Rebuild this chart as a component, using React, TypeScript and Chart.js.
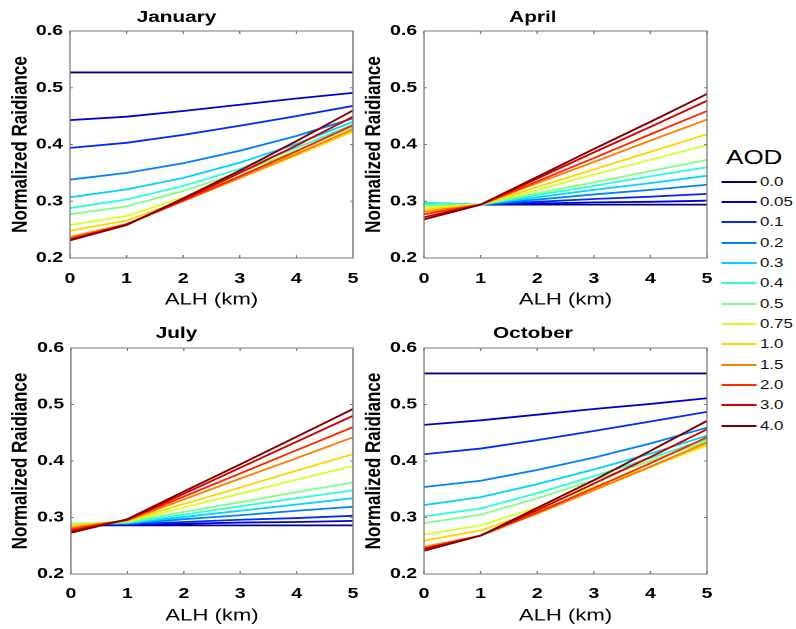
import React, { useEffect, useRef } from "react";
import { Chart, registerables } from "chart.js";

Chart.register(...registerables);

// ---- data ----
const ALH_KM = [0, 1, 2, 3, 4, 5];
const AOD_LABELS = ["0.0", "0.05", "0.1", "0.2", "0.3", "0.4", "0.5", "0.75", "1.0", "1.5", "2.0", "3.0", "4.0"];
const AOD_COLORS = ["#000080", "#0000D4", "#002AFF", "#0080FF", "#00D4FF", "#2AFFD4", "#80FF80", "#D4FF2A", "#FFD400", "#FF8000", "#FF2A00", "#D40000", "#800000"];
const Y_TICKS = [0.2, 0.3, 0.4, 0.5, 0.6];
const X_TICKS = [0, 1, 2, 3, 4, 5];

const JANUARY = [
  [0.527, 0.527, 0.527, 0.527, 0.527, 0.527],
  [0.443, 0.449, 0.459, 0.470, 0.481, 0.491],
  [0.394, 0.403, 0.417, 0.433, 0.450, 0.468],
  [0.338, 0.350, 0.367, 0.389, 0.415, 0.446],
  [0.307, 0.321, 0.341, 0.368, 0.401, 0.440],
  [0.288, 0.303, 0.327, 0.357, 0.394, 0.435],
  [0.277, 0.291, 0.318, 0.351, 0.389, 0.431],
  [0.258, 0.274, 0.307, 0.344, 0.384, 0.425],
  [0.248, 0.266, 0.302, 0.341, 0.381, 0.423],
  [0.237, 0.260, 0.300, 0.341, 0.383, 0.427],
  [0.234, 0.259, 0.301, 0.344, 0.388, 0.434],
  [0.232, 0.259, 0.303, 0.350, 0.398, 0.449],
  [0.231, 0.258, 0.305, 0.354, 0.406, 0.460],
];

const APRIL = [
  [0.294, 0.294, 0.294, 0.294, 0.294, 0.294],
  [0.295, 0.294, 0.296, 0.298, 0.299, 0.301],
  [0.296, 0.294, 0.299, 0.304, 0.308, 0.313],
  [0.297, 0.294, 0.303, 0.312, 0.320, 0.329],
  [0.297, 0.294, 0.307, 0.320, 0.332, 0.345],
  [0.296, 0.294, 0.311, 0.327, 0.344, 0.360],
  [0.293, 0.294, 0.314, 0.333, 0.353, 0.373],
  [0.289, 0.294, 0.320, 0.347, 0.373, 0.399],
  [0.285, 0.294, 0.325, 0.356, 0.387, 0.418],
  [0.281, 0.294, 0.332, 0.369, 0.407, 0.444],
  [0.277, 0.294, 0.335, 0.376, 0.418, 0.459],
  [0.272, 0.294, 0.340, 0.386, 0.431, 0.477],
  [0.268, 0.294, 0.343, 0.392, 0.440, 0.489],
];

const JULY = [
  [0.286, 0.286, 0.286, 0.286, 0.286, 0.286],
  [0.287, 0.287, 0.289, 0.291, 0.292, 0.294],
  [0.287, 0.288, 0.292, 0.296, 0.299, 0.303],
  [0.288, 0.289, 0.297, 0.304, 0.312, 0.319],
  [0.289, 0.290, 0.301, 0.312, 0.323, 0.334],
  [0.289, 0.291, 0.305, 0.320, 0.334, 0.348],
  [0.289, 0.292, 0.310, 0.327, 0.345, 0.362],
  [0.287, 0.293, 0.318, 0.342, 0.367, 0.391],
  [0.285, 0.294, 0.324, 0.353, 0.383, 0.412],
  [0.282, 0.295, 0.332, 0.369, 0.405, 0.442],
  [0.279, 0.296, 0.337, 0.378, 0.419, 0.460],
  [0.276, 0.296, 0.342, 0.388, 0.434, 0.480],
  [0.273, 0.297, 0.346, 0.394, 0.443, 0.492],
];

const OCTOBER = [
  [0.555, 0.555, 0.555, 0.555, 0.555, 0.555],
  [0.464, 0.472, 0.482, 0.492, 0.501, 0.511],
  [0.412, 0.422, 0.437, 0.453, 0.470, 0.487],
  [0.354, 0.365, 0.384, 0.406, 0.431, 0.459],
  [0.322, 0.336, 0.359, 0.385, 0.413, 0.445],
  [0.302, 0.316, 0.343, 0.373, 0.405, 0.439],
  [0.290, 0.305, 0.334, 0.366, 0.400, 0.435],
  [0.270, 0.286, 0.318, 0.354, 0.390, 0.427],
  [0.259, 0.277, 0.311, 0.349, 0.389, 0.430],
  [0.248, 0.268, 0.307, 0.348, 0.390, 0.433],
  [0.245, 0.268, 0.309, 0.352, 0.396, 0.442],
  [0.244, 0.268, 0.313, 0.360, 0.407, 0.456],
  [0.241, 0.268, 0.317, 0.366, 0.418, 0.471],
];

// ---- layout (inner coordinates; whole figure is stretched horizontally) ----
const S = 1.3;
const FONT = "'Liberation Sans', Arial, sans-serif";
Chart.defaults.font.family = FONT;

const boxPlugin = {
  id: "matlabBox",
  afterDraw(chart: any) {
    const { ctx, chartArea: a, scales } = chart;
    ctx.save();
    ctx.strokeStyle = "#767676";
    ctx.lineWidth = 1;
    ctx.strokeRect(a.left, a.top, a.right - a.left, a.bottom - a.top);
    ctx.beginPath();
    for (const t of scales.x.ticks) {
      const px = scales.x.getPixelForValue(t.value);
      ctx.moveTo(px, a.bottom);
      ctx.lineTo(px, a.bottom - 3);
      ctx.moveTo(px, a.top);
      ctx.lineTo(px, a.top + 3);
    }
    for (const t of scales.y.ticks) {
      const py = scales.y.getPixelForValue(t.value);
      ctx.moveTo(a.left, py);
      ctx.lineTo(a.left + 2.2, py);
      ctx.moveTo(a.right, py);
      ctx.lineTo(a.right - 2.2, py);
    }
    ctx.stroke();
    ctx.restore();
  },
};

type PanelProps = {
  title: string;
  values: number[][];
  left: number;
  top: number;
  width: number;
  height: number;
  yAxisWidth: number;
  xAxisHeight: number;
  rightPad: number;
  titleTop: number;
  yTitlePad: number;
  xTitlePad: number;
  xTickPad: number;
};

function Panel(p: PanelProps) {
  const ref = useRef<HTMLCanvasElement>(null);
  useEffect(() => {
    const chart = new Chart(ref.current as HTMLCanvasElement, {
      type: "line",
      data: {
        datasets: p.values.map((vals, i) => ({
          label: AOD_LABELS[i],
          data: ALH_KM.map((x, j) => ({ x, y: vals[j] })),
          borderColor: AOD_COLORS[i],
          backgroundColor: AOD_COLORS[i],
          borderWidth: 1.8,
          pointRadius: 0,
          tension: 0,
          fill: false,
          order: AOD_LABELS.length - i,
        })),
      },
      options: {
        animation: false,
        responsive: false,
        devicePixelRatio: 2,
        layout: { autoPadding: false, padding: { left: 0, right: p.rightPad, top: 0, bottom: 0 } },
        plugins: {
          legend: { display: false },
          tooltip: { enabled: false },
          title: {
            display: true,
            text: p.title,
            color: "#000",
            font: { family: FONT, size: 16, weight: "bold" },
            padding: { top: p.titleTop, bottom: 31 - p.titleTop - 19.2 },
          },
        },
        scales: {
          x: {
            type: "linear",
            min: 0,
            max: 5,
            afterBuildTicks: (s: any) => {
              s.ticks = X_TICKS.map((v) => ({ value: v }));
            },
            ticks: {
              color: "#000",
              font: { family: FONT, size: 15, weight: "bold" },
              padding: p.xTickPad,
              maxRotation: 0,
              callback: (v: any) => String(v),
            },
            grid: { display: false, drawTicks: false },
            border: { display: false },
            title: {
              display: true,
              text: "ALH (km)",
              color: "#000",
              font: { family: FONT, size: 17 },
              padding: { top: 0, bottom: p.xTitlePad },
            },
            afterFit: (s: any) => {
              s.height = p.xAxisHeight;
              s.paddingLeft = 0;
              s.paddingRight = 0;
            },
          },
          y: {
            type: "linear",
            min: 0.2,
            max: 0.6,
            afterBuildTicks: (s: any) => {
              s.ticks = Y_TICKS.map((v) => ({ value: v }));
            },
            ticks: {
              color: "#000",
              font: { family: FONT, size: 15, weight: "bold" },
              padding: 5.3,
              callback: (v: any) => Number(v).toFixed(1),
            },
            grid: { display: false, drawTicks: false },
            border: { display: false },
            title: {
              display: true,
              text: "Normalized Raidiance",
              color: "#000",
              font: { family: FONT, size: 17, weight: "bold" },
              padding: { top: p.yTitlePad, bottom: 0 },
            },
            afterFit: (s: any) => {
              s.width = p.yAxisWidth;
              s.paddingTop = 0;
              s.paddingBottom = 0;
            },
          },
        },
      },
      plugins: [boxPlugin],
    } as any);
    return () => chart.destroy();
  }, []);
  return (
    <canvas
      ref={ref}
      width={p.width}
      height={p.height}
      style={{ position: "absolute", left: p.left, top: p.top, width: p.width, height: p.height }}
    />
  );
}

function Legend() {
  const rows = AOD_LABELS.map((lab, i) => {
    const cy = 181.7 + 20.33 * i;
    return (
      <div key={lab} style={{ position: "absolute", left: 555.2, top: cy - 10, height: 20, width: 60 }}>
        <div style={{ position: "absolute", left: 0, top: 9, width: 27, height: 2, background: AOD_COLORS[i] }} />
        <div
          style={{
            position: "absolute",
            left: 29.4,
            top: 0,
            height: 20,
            lineHeight: "20px",
            fontSize: 13,
            fontFamily: FONT,
            color: "#111",
            whiteSpace: "nowrap",
          }}
        >
          {lab}
        </div>
      </div>
    );
  });
  return (
    <>
      <div
        style={{
          position: "absolute",
          left: 558.5,
          top: 156.7 - 12,
          height: 24,
          lineHeight: "24px",
          fontSize: 20,
          fontFamily: FONT,
          color: "#000",
          whiteSpace: "nowrap",
        }}
      >
        AOD
      </div>
      {rows}
    </>
  );
}

export default function App() {
  return (
    <div
      style={{
        position: "fixed",
        left: 0,
        top: 0,
        width: 796 / S,
        height: 629,
        transform: `scaleX(${S})`,
        transformOrigin: "0 0",
        background: "#fff",
        overflow: "hidden",
      }}
    >
      <Panel title="January" values={JANUARY} left={0} top={0} width={276} height={310}
        yAxisWidth={53.8} xAxisHeight={52} rightPad={4.5} titleTop={8} yTitlePad={5.6} xTitlePad={0} xTickPad={12} />
      <Panel title="April" values={APRIL} left={276} top={0} width={276} height={310}
        yAxisWidth={50.2} xAxisHeight={52} rightPad={8.2} titleTop={8} yTitlePad={1.5} xTitlePad={0} xTickPad={12} />
      <Panel title="July" values={JULY} left={0} top={317} width={276} height={310}
        yAxisWidth={54.6} xAxisHeight={53} rightPad={4.5} titleTop={6.8} yTitlePad={5.6} xTitlePad={1.2} xTickPad={11} />
      <Panel title="October" values={OCTOBER} left={276} top={317} width={276} height={310}
        yAxisWidth={50.2} xAxisHeight={53} rightPad={8.2} titleTop={6.8} yTitlePad={1.5} xTitlePad={1.2} xTickPad={11} />
      <Legend />
    </div>
  );
}
